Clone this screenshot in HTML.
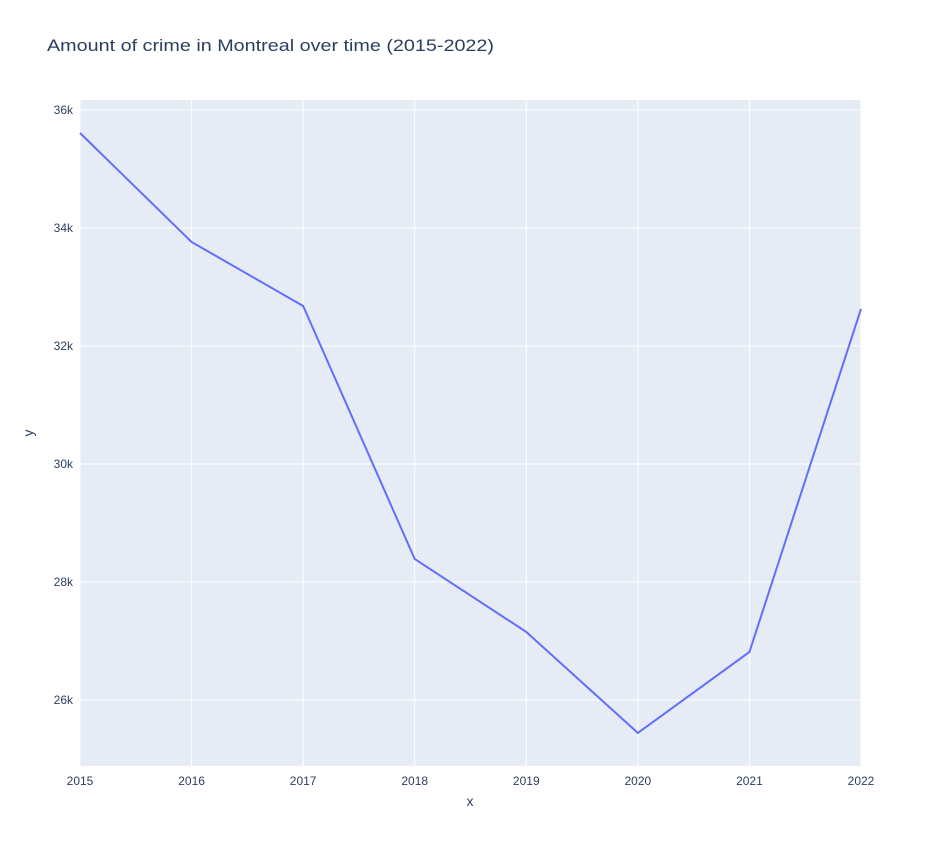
<!DOCTYPE html>
<html><head><meta charset="utf-8"><style>
body{margin:0;background:#fff;font-family:"Liberation Sans",Arial,sans-serif;}
svg text{font-family:"Liberation Sans",Arial,sans-serif;}
</style></head><body>
<svg id="chart" width="942" height="846" xmlns="http://www.w3.org/2000/svg">
<rect width="942" height="846" fill="#fff"/>
<text x="47" y="51" font-size="17" fill="#2a3f5f" textLength="447" lengthAdjust="spacingAndGlyphs">Amount of crime in Montreal over time (2015-2022)</text>
<rect x="80" y="100" width="781" height="666" fill="#e5ecf6"/>
<g id="grid"></g>
<g id="ticks"></g>
<path id="line" fill="none" stroke="#636efa" stroke-width="2"/>
<text x="470" y="806" font-size="14" fill="#2a3f5f" text-anchor="middle">x</text>
<text x="33" y="433" font-size="14" fill="#2a3f5f" text-anchor="middle" transform="rotate(-90 33 433)">y</text>
</svg>
<script>
const years=[2015,2016,2017,2018,2019,2020,2021,2022];
const crimes=[35610,33763,32678,28390,27153,25441,26814,32627];
const yTicks=[26000,28000,30000,32000,34000,36000];
const yTickLabels=["26k","28k","30k","32k","34k","36k"];
const NS="http://www.w3.org/2000/svg";
const x0=80,x1=861,y0=766,y1=100,ymin=24881,ymax=36169;
const xs=v=>x0+(v-2015)/(2022-2015)*(x1-x0);
const ys=v=>y0-(v-ymin)/(ymax-ymin)*(y0-y1);
const grid=document.getElementById('grid'),ticks=document.getElementById('ticks');
years.forEach(yr=>{
  const x=xs(yr);
  const l=document.createElementNS(NS,'line');
  l.setAttribute('x1',x);l.setAttribute('x2',x);l.setAttribute('y1',y1);l.setAttribute('y2',y0);
  l.setAttribute('stroke','#fff');l.setAttribute('stroke-width','1');
  
  
  grid.appendChild(l);
  const t=document.createElementNS(NS,'text');
  t.setAttribute('x',x);t.setAttribute('y',785);t.setAttribute('font-size','12');t.setAttribute('fill','#2a3f5f');t.setAttribute('text-anchor','middle');
  t.textContent=yr;
  
  
  ticks.appendChild(t);
});
yTicks.forEach((v,i)=>{
  const y=ys(v);
  const l=document.createElementNS(NS,'line');
  l.setAttribute('x1',x0);l.setAttribute('x2',x1);l.setAttribute('y1',y);l.setAttribute('y2',y);
  l.setAttribute('stroke','#fff');l.setAttribute('stroke-width','1');
  
  
  grid.appendChild(l);
  const t=document.createElementNS(NS,'text');
  t.setAttribute('x',73);t.setAttribute('y',y+4);t.setAttribute('font-size','12');t.setAttribute('fill','#2a3f5f');t.setAttribute('text-anchor','end');
  t.textContent=yTickLabels[i];
  
  
  ticks.appendChild(t);
});
document.getElementById('line').setAttribute('d',years.map((yr,i)=>(i?'L':'M')+xs(yr)+','+ys(crimes[i])).join(' '));
</script>
</body></html>
